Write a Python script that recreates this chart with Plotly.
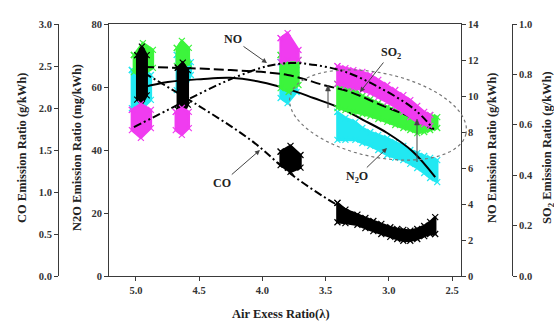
import numpy as np
import plotly.graph_objects as go

W, H = 554, 323
PL, PR, PT, PB = 109, 461, 24, 276          # plot box in pixels
X_RANGE = [5.213, 2.43]

# ---------------- tick labels ----------------
x_ticks = [5.0, 4.5, 4.0, 3.5, 3.0, 2.5]
co_ticks = [0.0, 0.5, 1.0, 1.5, 2.0, 2.5, 3.0]
n2o_ticks = [0, 20, 40, 60, 80]
no_ticks = [0, 2, 4, 6, 8, 10, 12, 14]
so2_ticks = [0.0, 0.2, 0.4, 0.6, 0.8, 1.0]

# ---------------- measured clouds (lambda, low, high) ----------------
# CO (g/kWh), black
co_lam = [[4.990, 4.953, 4.915],
          [4.669, 4.630, 4.590],
          [3.856, 3.778, 3.699],
          [3.407, 3.344, 3.249, 3.186, 3.123, 3.060, 2.989, 2.934, 2.886, 2.831, 2.776, 2.721, 2.674, 2.634]]
co_hi = [[2.63, 2.73, 2.63],
         [2.48, 2.54, 2.45],
         [1.48, 1.55, 1.44],
         [0.87, 0.79, 0.73, 0.69, 0.655, 0.62, 0.58, 0.56, 0.55, 0.54, 0.56, 0.595, 0.645, 0.70]]
co_lo = [[2.10, 2.05, 2.15],
         [1.98, 1.92, 2.04],
         [1.32, 1.24, 1.29],
         [0.64, 0.63, 0.61, 0.57, 0.535, 0.50, 0.465, 0.44, 0.42, 0.42, 0.44, 0.475, 0.50, 0.50]]

# N2O (mg/kWh), cyan
n2o_lam = [[5.032, 4.961, 4.882],
           [4.677, 4.637, 4.566],
           [3.856, 3.801, 3.730],
           [3.407, 3.344, 3.265, 3.210, 3.147, 3.084, 3.013, 2.950, 2.886, 2.831, 2.776, 2.721, 2.674, 2.618]]
n2o_hi = [[65.4, 66.7, 63.8],
          [70.2, 72.4, 67.9],
          [67.9, 69.2, 65.4],
          [52.1, 50.2, 48.9, 47.0, 45.7, 44.8, 43.8, 42.5, 41.3, 40.0, 39.0, 38.1, 37.5, 36.8]]
n2o_lo = [[53.3, 52.7, 55.9],
          [59.0, 56.5, 63.8],
          [56.5, 54.9, 58.4],
          [43.2, 43.2, 43.2, 42.2, 41.3, 40.0, 38.4, 37.5, 36.8, 35.6, 34.3, 32.7, 31.1, 29.8]]

# NO (g/kWh), green
no_lam = [[5.016, 4.945, 4.866],
          [4.677, 4.637, 4.582],
          [3.856, 3.793, 3.715],
          [3.407, 3.344, 3.281, 3.210, 3.147, 3.084, 3.013, 2.950, 2.886, 2.831, 2.776, 2.721, 2.674, 2.618]]
no_hi = [[12.28, 12.94, 12.56],
         [12.67, 13.06, 12.67],
         [12.28, 12.44, 12.00],
         [10.67, 10.56, 10.44, 10.00, 9.83, 9.61, 9.39, 9.22, 9.06, 8.94, 8.83, 8.89, 8.94, 8.83]]
no_lo = [[11.33, 11.17, 11.56],
         [11.67, 11.56, 11.78],
         [10.44, 10.22, 10.61],
         [9.33, 9.22, 9.11, 9.00, 8.89, 8.72, 8.56, 8.39, 8.22, 8.11, 7.94, 8.00, 8.11, 8.22]]

# SO2 (g/kWh), magenta
so2_lam = [[5.032, 4.961, 4.882],
           [4.685, 4.637, 4.582],
           [3.856, 3.801, 3.715],
           [3.407, 3.344, 3.281, 3.210, 3.147, 3.084, 3.013, 2.950, 2.886, 2.831, 2.776, 2.721, 2.674]]
so2_hi = [[0.659, 0.683, 0.659],
          [0.651, 0.667, 0.651],
          [0.944, 0.964, 0.897],
          [0.833, 0.825, 0.817, 0.810, 0.798, 0.778, 0.758, 0.738, 0.718, 0.698, 0.675, 0.651, 0.639]]
so2_lo = [[0.579, 0.548, 0.587],
          [0.579, 0.560, 0.587],
          [0.849, 0.857, 0.857],
          [0.762, 0.754, 0.746, 0.738, 0.726, 0.710, 0.690, 0.671, 0.651, 0.631, 0.611, 0.603, 0.595]]

# ---------------- fitted trend lines ----------------
co_fit_lam = [4.937, 4.527, 4.093, 3.754, 3.407, 3.226, 2.989, 2.831, 2.634]
co_fit_val = [2.417, 2.048, 1.619, 1.190, 0.845, 0.714, 0.548, 0.500, 0.595]
no_fit_lam = [4.937, 4.637, 4.251, 3.801, 3.517, 3.304, 3.084, 2.831, 2.658]
no_fit_val = [11.61, 11.56, 11.44, 11.17, 10.61, 10.22, 9.56, 8.83, 8.17]
so2_fit_lam = [5.016, 4.748, 4.487, 4.227, 3.959, 3.778, 3.580, 3.344, 3.068, 2.792, 2.642]
so2_fit_val = [0.591, 0.659, 0.726, 0.786, 0.833, 0.845, 0.837, 0.810, 0.746, 0.659, 0.579]
n2o_fit_lam = [4.937, 4.748, 4.487, 4.251, 4.014, 3.801, 3.596, 3.383, 3.202, 3.013, 2.808, 2.634]
n2o_fit_val = [60.0, 61.6, 62.5, 62.9, 61.6, 59.4, 56.5, 53.3, 49.5, 45.4, 39.4, 31.4]

C_CO, C_N2O, C_NO, C_SO2 = "#000000", "#22E8F2", "#3CF53C", "#F03CF0"
AX = "#3a3a3a"
FONT = "Liberation Serif"

fig = go.Figure()


def add_cloud(lams, his, los, color, yaxis):
    for lam, hi, lo in zip(lams, his, los):
        xs = list(lam) + list(lam[::-1]) + [lam[0]]
        ys = list(hi) + list(lo[::-1]) + [hi[0]]
        fig.add_trace(go.Scatter(x=xs, y=ys, mode="lines+markers", fill="toself",
                                 fillcolor=color, line=dict(color=color, width=2.5),
                                 marker=dict(symbol="x-thin", size=6, line=dict(color=color, width=1.2)),
                                 yaxis=yaxis, hoverinfo="skip"))


add_cloud(n2o_lam, n2o_hi, n2o_lo, C_N2O, "y")
add_cloud(no_lam, no_hi, no_lo, C_NO, "y2")
add_cloud(so2_lam, so2_hi, so2_lo, C_SO2, "y4")
add_cloud(co_lam, co_hi, co_lo, C_CO, "y3")

fig.add_trace(go.Scatter(x=n2o_fit_lam, y=n2o_fit_val, mode="lines", yaxis="y",
                         line=dict(color="black", width=2, shape="spline")))
fig.add_trace(go.Scatter(x=no_fit_lam, y=no_fit_val, mode="lines", yaxis="y2",
                         line=dict(color="black", width=2, shape="spline", dash="10px,4px")))
fig.add_trace(go.Scatter(x=so2_fit_lam, y=so2_fit_val, mode="lines", yaxis="y4",
                         line=dict(color="black", width=2, shape="spline",
                                   dash="8px,3px,2px,3px,2px,3px")))
fig.add_trace(go.Scatter(x=co_fit_lam, y=co_fit_val, mode="lines", yaxis="y3",
                         line=dict(color="black", width=2, shape="spline",
                                   dash="8px,3px,2px,3px")))


def px(xp):
    return xp / W


def py(yp):
    return (PB - yp) / (PB - PT)


tickfont = dict(family=FONT, size=10.5, color="#333", weight="bold")
common = dict(showgrid=False, zeroline=False, showline=True, linecolor=AX, linewidth=1,
              ticks="outside", ticklen=4, tickcolor=AX, tickfont=tickfont)

fig.update_layout(
    width=W, height=H, margin=dict(l=0, r=0, t=PT, b=H - PB),
    paper_bgcolor="white", plot_bgcolor="white", showlegend=False,
    xaxis=dict(domain=[PL / W, PR / W], range=X_RANGE, tickvals=x_ticks,
               ticktext=[f"{v:.1f}" for v in x_ticks], mirror=True, **common),
    yaxis=dict(range=[0, 80], tickvals=n2o_ticks, ticktext=[str(v) for v in n2o_ticks],
               side="left", **common),
    yaxis2=dict(range=[0, 14], tickvals=no_ticks, ticktext=[str(v) for v in no_ticks],
                overlaying="y", side="right", anchor="x", **common),
    yaxis3=dict(range=[0, 3], tickvals=co_ticks, ticktext=[f"{v:.1f}" for v in co_ticks],
                overlaying="y", side="left", anchor="free", position=58 / W, **common),
    yaxis4=dict(range=[0, 1], tickvals=so2_ticks, ticktext=[f"{v:.1f}" for v in so2_ticks],
                overlaying="y", side="right", anchor="free", position=512 / W, **common),
)

tfont = dict(family=FONT, size=12.5, color="#222", weight="bold")
ann = []
for text, xc in [("CO Emission Ratio (g/kWh)", 22), ("N2O Emission Ratio (mg/kWh)", 77),
                 ("NO Emission Ratio (g/kWh)", 492), ("SO<sub>2</sub> Emission Ratio (g/kWh)", 548)]:
    ann.append(dict(text=text, x=px(xc), y=py(148), xref="paper", yref="paper",
                    textangle=-90, showarrow=False, font=tfont, xanchor="center", yanchor="middle"))
ann.append(dict(text="Air Exess Ratio(\u03bb)", x=px(281), y=py(314), xref="paper", yref="paper",
                showarrow=False, font=tfont, xanchor="center", yanchor="middle"))

lfont = dict(family=FONT, size=12, color="#222", weight="bold")
for text, (hx, hy), (tx, ty) in [("NO", (267, 63), (233, 39)),
                                 ("SO<sub>2</sub>", (360, 92), (391, 53)),
                                 ("N<sub>2</sub>O", (387, 148), (357, 177)),
                                 ("CO", (260, 150), (222, 183))]:
    ann.append(dict(text=text, x=px(hx), y=py(hy), xref="paper", yref="paper",
                    ax=tx - hx, ay=ty - hy, showarrow=True, arrowhead=2, arrowsize=1,
                    arrowwidth=1, arrowcolor="#444", font=lfont))
fig.update_layout(annotations=ann)

# vertical difference arrows drawn as shapes
for hx, hy, ty in [(328, 85, 108), (417, 119, 162)]:
    fig.add_shape(type="line", x0=px(hx), x1=px(hx), y0=py(hy + 2), y1=py(ty),
                  xref="paper", yref="paper", line=dict(color="#444", width=1), layer="above")
    head = f"M {px(hx - 2.5):.5f},{py(hy + 6):.5f} L {px(hx):.5f},{py(hy):.5f} L {px(hx + 2.5):.5f},{py(hy + 6):.5f} Z"
    fig.add_shape(type="path", path=head, xref="paper", yref="paper",
                  fillcolor="#444", line=dict(color="#444", width=0.5), layer="above")

# dotted ellipse around the continuous-operation region
cx, cy, a, b, th = 378, 115, 90, 42, np.deg2rad(12)
t = np.linspace(0, 2 * np.pi, 73)
ex = cx + a * np.cos(t) * np.cos(th) - b * np.sin(t) * np.sin(th)
ey = cy + a * np.cos(t) * np.sin(th) + b * np.sin(t) * np.cos(th)
path = "M " + " L ".join(f"{px(x):.5f},{py(y):.5f}" for x, y in zip(ex, ey)) + " Z"
fig.add_shape(type="path", path=path, xref="paper", yref="paper",
              line=dict(color="#777", width=1.2, dash="dot"), layer="above")

fig.write_html("out.html")
